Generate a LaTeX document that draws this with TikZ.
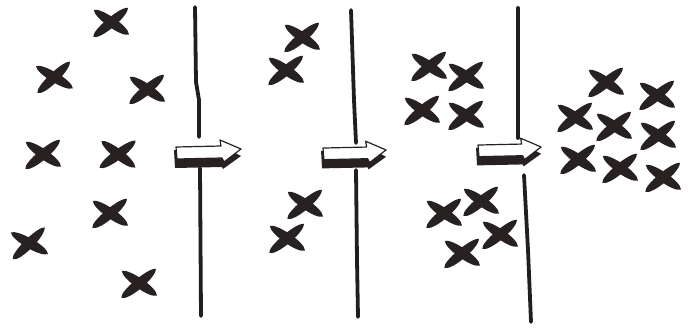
\documentclass[tikz,border=0pt]{standalone}
\begin{document}
\begin{tikzpicture}[x=1pt,y=-1pt,
  inkc/.style={fill={rgb,255:red,40;green,33;blue,33}},
  wall/.style={draw={rgb,255:red,35;green,30;blue,30},line width=3.8pt,line cap=round,line join=round},
  cross/.pic={
    \fill[inkc,rotate=40] (-23,0) .. controls (-20,7) and (17,7) .. (22,0) .. controls (17,-6) and (-20,-6) .. cycle;
    \fill[inkc,rotate=-35] (-21,0) .. controls (-17,-6) and (17,-7) .. (22,0) .. controls (17,7) and (-17,6) .. cycle;
  },
  blockarrow/.pic={
    \fill[inkc] (-2,2) -- (46,2) -- (46,-2) -- (65,8) -- (47,21) -- (46,19) -- (-1,20) -- cycle;
    \filldraw[fill=white,draw={rgb,255:red,40;green,33;blue,33},line width=1.2pt,line join=round]
      (0,-1) -- (45,-2) -- (44,-8) -- (65,1) -- (48,14) -- (46,10) -- (1,11) -- cycle;
  }]
\fill[white] (0,0) rectangle (688,329);
\useasboundingbox (0,0) rectangle (688,329);
% walls
\draw[wall] (195,7) -- (196,82) -- (199,100) -- (199,137);
\draw[wall] (200,168) -- (201,316);
\draw[wall] (351,10) -- (354,100) -- (356,143);
\draw[wall] (356,170) -- (357,260) -- (358,317);
\draw[wall] (518,8) -- (518,138);
\draw[wall] (524,175) -- (528,250) -- (531,322);
% arrows
\pic at (176,148) {blockarrow};
\pic[scale=0.97] at (323,149) {blockarrow};
\pic[scale=0.97] at (478,146) {blockarrow};
% panel 1
\pic at (111,22) {cross};
\pic[rotate=4] at (54,77) {cross};
\pic at (147,89) {cross};
\pic at (43,154) {cross};
\pic[rotate=-3] at (118,154) {cross};
\pic at (110,213) {cross};
\pic[rotate=5] at (29,243) {cross};
\pic at (139,283) {cross};
% panel 2
\pic at (302,37) {cross};
\pic at (286,70) {cross};
\pic at (305,204) {cross};
\pic at (287,238) {cross};
% panel 3
\pic at (429,66) {cross};
\pic at (466,76) {cross};
\pic at (422,110) {cross};
\pic at (466,115) {cross};
\pic at (444,213) {cross};
\pic at (481,201) {cross};
\pic at (500,234) {cross};
\pic at (462,253) {cross};
% panel 4
\pic at (606,82) {cross};
\pic at (657,95) {cross};
\pic at (575,117) {cross};
\pic at (614,126) {cross};
\pic at (658,135) {cross};
\pic at (578,159) {cross};
\pic at (620,168) {cross};
\pic at (663,177) {cross};
\end{tikzpicture}
\end{document}
